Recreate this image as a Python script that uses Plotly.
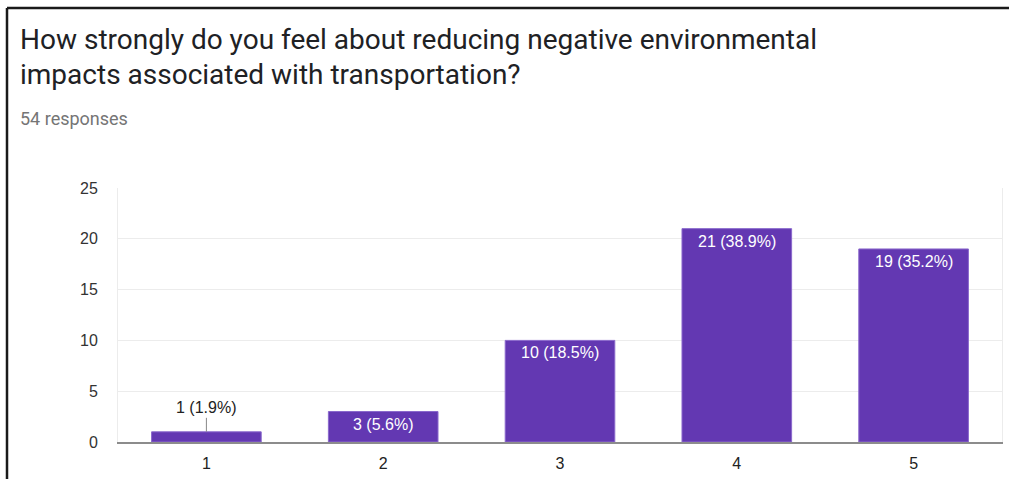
import plotly.graph_objects as go

# Survey answers (scale 1-5) and how many people chose each
categories = ["1", "2", "3", "4", "5"]
counts = [1, 3, 10, 21, 19]
total_responses = 54
y_ticks = [0, 5, 10, 15, 20, 25]

title_line1 = "How strongly do you feel about reducing negative environmental"
title_line2 = "impacts associated with transportation?"
subtitle = f"{total_responses} responses"

labels = [f"{c} ({c / total_responses * 100:.1f}%)" for c in counts]

# Canvas / plot-area geometry in pixels
FIG_W, FIG_H = 1009, 479
L, R, T, B = 118, 7, 188, 37
PW = FIG_W - L - R
PH = FIG_H - T - B


def px(x):
    return (x - L) / PW


def py(y):
    return (FIG_H - B - y) / PH


CHART_FONT = "Liberation Sans, Arial"
BAR = "#6338b2"
fig = go.Figure(
    go.Bar(
        x=categories,
        y=counts,
        marker=dict(color=BAR, line=dict(color="#8a68cc", width=1)),
        width=0.62,
        hoverinfo="skip",
    )
)

annotations = []
for i, (val, lab) in enumerate(zip(counts, labels)):
    if val >= 3:
        annotations.append(dict(
            x=i, y=val, xref="x", yref="y", text=lab, showarrow=False,
            yanchor="top", yshift=-2,
            font=dict(family=CHART_FONT, size=16, color="white"),
        ))
    else:
        annotations.append(dict(
            x=i, y=val, xref="x", yref="y", text=lab, showarrow=True,
            arrowhead=0, arrowwidth=1, arrowcolor="#888", ax=0, ay=-24,
            font=dict(family=CHART_FONT, size=16, color="#222"),
        ))

annotations += [
    dict(x=px(18), y=py(40), xref="paper", yref="paper", xanchor="left",
         yanchor="middle", showarrow=False, text=title_line1,
         font=dict(family="Roboto", size=28, color="#202124")),
    dict(x=px(18), y=py(75), xref="paper", yref="paper", xanchor="left",
         yanchor="middle", showarrow=False, text=title_line2,
         font=dict(family="Roboto", size=28, color="#202124")),
    dict(x=px(18), y=py(118), xref="paper", yref="paper", xanchor="left",
         yanchor="middle", showarrow=False, text=subtitle,
         font=dict(family="Roboto", size=18, color="#757575")),
]

# Frame around the card (top and left edges)
shapes = [
    dict(type="line", xref="paper", yref="paper", x0=px(7), x1=px(FIG_W + 5),
         y0=py(8), y1=py(8), line=dict(color="#1a1a1a", width=2.5)),
    dict(type="line", xref="paper", yref="paper", x0=px(7), x1=px(7),
         y0=py(8), y1=py(FIG_H + 5), line=dict(color="#1a1a1a", width=2.5)),
]

fig.update_layout(
    width=FIG_W, height=FIG_H,
    margin=dict(l=L, r=R, t=T, b=B, pad=0),
    paper_bgcolor="white", plot_bgcolor="white",
    showlegend=False,
    annotations=annotations,
    shapes=shapes,
    font=dict(family=CHART_FONT, size=16, color="#333"),
)
fig.update_xaxes(
    type="category", range=[-0.5, len(categories) - 0.5],
    showgrid=False, showline=True, linecolor="#8c8c8c", linewidth=2,
    ticks="", ticklabelstandoff=6, fixedrange=True,
    tickfont=dict(family=CHART_FONT, size=16, color="#222"),
)
fig.update_yaxes(
    range=[0, 25], tickvals=y_ticks, showgrid=True, gridcolor="#ececec",
    gridwidth=1, zeroline=False, showline=True, linecolor="#ececec",
    linewidth=1, mirror=True, ticks="", ticklabelstandoff=16, fixedrange=True,
    tickfont=dict(family=CHART_FONT, size=16, color="#333"),
)

fig.write_html("out.html", config={"displayModeBar": False})
